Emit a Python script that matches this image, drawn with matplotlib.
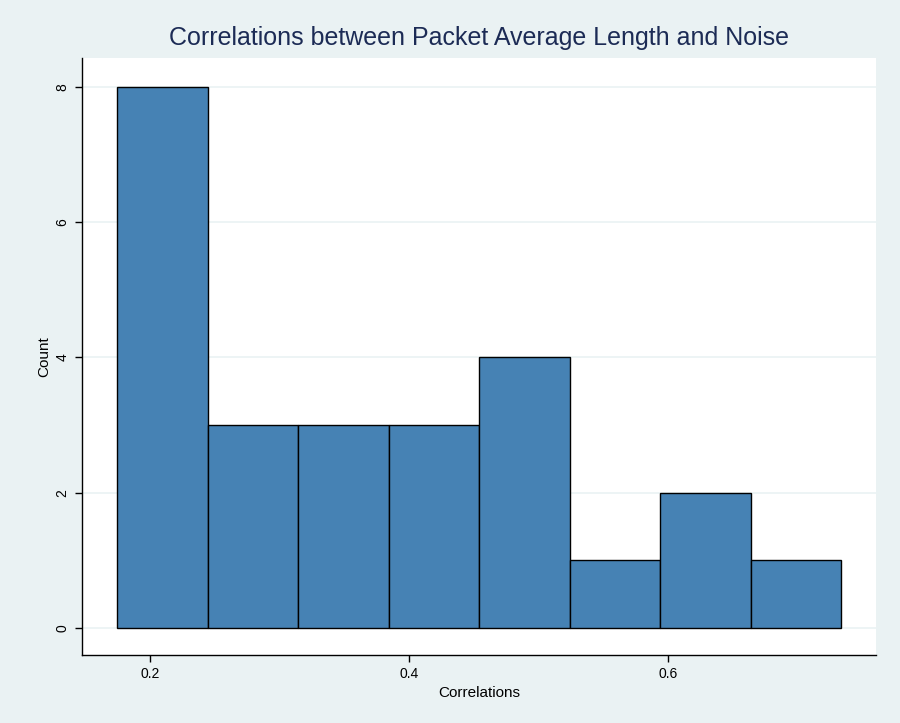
import matplotlib
matplotlib.use("Agg")
import matplotlib.pyplot as plt
import numpy as np

# histogram of correlations
counts = [8, 3, 3, 3, 4, 1, 2, 1]
bin_start = 0.1747
bin_width = 0.0699
x_ticks = [0.2, 0.4, 0.6]
y_ticks = [0, 2, 4, 6, 8]

plt.rcParams['font.family'] = ['Liberation Sans', 'DejaVu Sans']

bg = '#EAF2F3'
fig = plt.figure(figsize=(9, 7.23), dpi=100, facecolor=bg)
ax = fig.add_axes([0.0911, 0.0941, 0.8822, 0.8257])
ax.set_facecolor('white')

edges = bin_start + bin_width * np.arange(len(counts) + 1)
ax.bar(edges[:-1], counts, width=bin_width, align='edge',
       color='#4682B4', edgecolor='black', linewidth=1.0, zorder=3)

ax.set_xlim(0.1475, 0.7606)
ax.set_ylim(-0.399, 8.429)
ax.set_xticks(x_ticks)
ax.set_xticklabels(['0.2', '0.4', '0.6'])
ax.set_yticks(y_ticks)
ax.set_yticklabels([str(v) for v in y_ticks], rotation=90, va='center')
ax.tick_params(direction='out', length=5, width=1, labelsize=10, pad=4)

ax.yaxis.grid(True, color=bg, linewidth=1.2, zorder=0)
for side in ['top', 'right']:
    ax.spines[side].set_visible(False)
for side in ['left', 'bottom']:
    ax.spines[side].set_linewidth(1.0)

ax.set_xlabel('Correlations', fontsize=11, labelpad=3)
ax.set_ylabel('Count', fontsize=11, labelpad=3)
ax.set_title('Correlations between Packet Average Length and Noise',
             fontsize=18, color='#1C2B55', pad=9)

fig.savefig('out.png', dpi=100, facecolor=bg)
